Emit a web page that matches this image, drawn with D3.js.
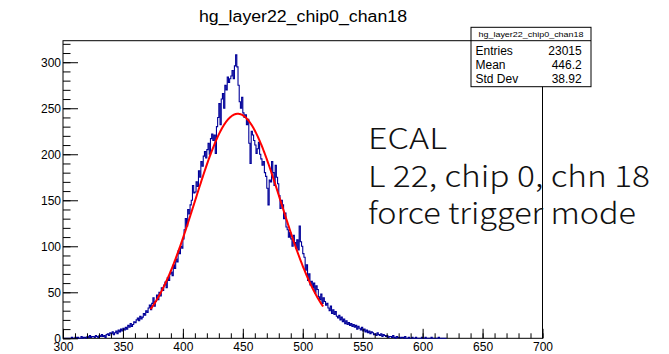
<!DOCTYPE html>
<html>
<head>
<meta charset="utf-8">
<script src="https://cdn.jsdelivr.net/npm/d3@7"></script>
<style>
  html, body { margin: 0; padding: 0; background: #fff; }
  svg { display: block; }
</style>
</head>
<body>
<div id="chart"></div>
<script>
// histogram: first bin low edge, bin width, bin contents (bins from 300 upward)
const histTitle = "hg_layer22_chip0_chan18";
const binStart = 300;
const binWidth = 1;
const counts = [
  0, 0, 0, 0, 0, 0, 0, 1, 0, 0,
  1, 0, 1, 0, 0, 2, 0, 1, 1, 0,
  2, 1, 3, 1, 2, 2, 1, 3, 2, 1,
  3, 2, 4, 2, 3, 1, 4, 5, 3, 6,
  5, 7, 4, 6, 8, 5, 9, 7, 10, 8,
  11, 9, 12, 10, 14, 12, 16, 13, 15, 18,
  17, 20, 22, 19, 24, 21, 23, 27, 25, 30,
  28, 33, 36, 31, 38, 44, 35, 40, 47, 42,
  50, 46, 55, 52, 58, 61, 55, 66, 63, 70,
  72, 68, 80, 76, 86, 83, 95, 92, 100, 98,
  108, 118, 130, 122, 140, 135, 145, 150, 166, 158,
  159, 170, 165, 182, 175, 192, 187, 198, 203, 196,
  205, 212, 200, 217, 222, 215, 221, 201, 230, 240,
  255, 232, 260, 266, 250, 275, 270, 284, 278, 282,
  285, 291, 282, 296, 308, 295, 275, 257, 250, 262,
  245, 240, 243, 232, 238, 212, 190, 225, 221, 215,
  210, 201, 206, 213, 200, 195, 188, 192, 180, 176,
  163, 145, 172, 170, 192, 180, 166, 188, 175, 168,
  155, 141, 150, 145, 130, 136, 121, 118, 110, 115,
  108, 100, 112, 104, 98, 107, 96, 122, 105, 100,
  92, 88, 74, 80, 63, 70, 58, 62, 55, 60,
  49, 57, 53, 45, 42, 48, 38, 44, 40, 36,
  38, 33, 30, 35, 27, 31, 26, 29, 24, 22,
  25, 20, 23, 18, 21, 16, 19, 15, 17, 14,
  16, 13, 15, 12, 14, 10, 13, 11, 9, 12,
  8, 10, 7, 9, 6, 8, 5, 7, 6, 4,
  5, 3, 6, 4, 3, 5, 2, 4, 3, 2,
  3, 1, 2, 2, 1, 3, 1, 0, 2, 1,
  1, 0, 1, 1, 0, 2, 0, 0, 1, 0,
  0, 1, 0, 0, 1, 0, 0, 0, 0, 1,
  0, 0, 1, 0, 0, 0, 0, 1, 0, 0,
  0, 0, 0, 1, 0, 0, 0, 0, 0, 0
];

// gaussian fit result and its range
const fitConstant = 244;
const fitMean = 445.8;
const fitSigma = 36;
const fitRange = [373, 517];

const xDomain = [300, 700];
const yMax = 323.4;
const xMajorTicks = [300, 350, 400, 450, 500, 550, 600, 650, 700];
const yMajorTicks = [0, 50, 100, 150, 200, 250, 300];

const statsLabels = ["Entries", "Mean", "Std Dev"];
const statsValues = ["23015", "446.2", "38.92"];

const noteLines = ["ECAL", "L 22, chip 0, chn 18", "force trigger mode"];
const noteWidths = [79, 282, 268];

const width = 669;
const height = 354;
const frame = { left: 63, right: 542.5, top: 40.7, bottom: 338.3 };
const rootFont = "'Liberation Sans', Arial, Helvetica, sans-serif";

const svg = d3.select("#chart").append("svg")
  .attr("width", width)
  .attr("height", height);

const x = d3.scaleLinear().domain(xDomain).range([frame.left, frame.right]);
const y = d3.scaleLinear().domain([0, yMax]).range([frame.bottom, frame.top]);

// frame
svg.append("rect")
  .attr("x", frame.left)
  .attr("y", frame.top)
  .attr("width", frame.right - frame.left)
  .attr("height", frame.bottom - frame.top)
  .attr("fill", "none")
  .attr("stroke", "#000")
  .attr("stroke-width", 1);

// histogram outline (ROOT step style)
const steps = counts.map((c, i) => [binStart + i * binWidth, c]);
steps.push([binStart + counts.length * binWidth, counts[counts.length - 1]]);

svg.append("path")
  .datum(steps)
  .attr("fill", "none")
  .attr("stroke", "#000099")
  .attr("stroke-width", 1.1)
  .attr("d", d3.line()
    .x((d) => x(d[0]))
    .y((d) => y(d[1]))
    .curve(d3.curveStepAfter));

// fit curve
const fitPoints = d3.range(fitRange[0], fitRange[1] + 0.01, 0.5).map((v) => [
  v,
  fitConstant * Math.exp(-0.5 * Math.pow((v - fitMean) / fitSigma, 2)),
]);

svg.append("path")
  .datum(fitPoints)
  .attr("fill", "none")
  .attr("stroke", "#ff0000")
  .attr("stroke-width", 2)
  .attr("d", d3.line()
    .x((d) => x(d[0]))
    .y((d) => y(d[1])));

// axes: ticks point inward like ROOT
const xMinor = d3.range(xDomain[0], xDomain[1] + 1, 10);
const yMinor = d3.range(0, yMax, 10);

svg.append("g")
  .attr("transform", `translate(0,${frame.bottom})`)
  .call(d3.axisBottom(x).tickValues(xMinor).tickSize(-5).tickFormat(""))
  .call((g) => g.select(".domain").remove());

svg.append("g")
  .attr("transform", `translate(0,${frame.bottom})`)
  .call(d3.axisBottom(x).tickValues(xMajorTicks).tickSize(-9.5).tickPadding(4.5))
  .call((g) => g.select(".domain").remove())
  .call((g) => g.selectAll("text")
    .attr("font-family", rootFont)
    .attr("font-size", 12)
    .attr("fill", "#000"));

svg.append("g")
  .attr("transform", `translate(${frame.left},0)`)
  .call(d3.axisLeft(y).tickValues(yMinor).tickSize(-7.5).tickFormat(""))
  .call((g) => g.select(".domain").remove());

svg.append("g")
  .attr("transform", `translate(${frame.left},0)`)
  .call(d3.axisLeft(y).tickValues(yMajorTicks).tickSize(-15).tickPadding(2))
  .call((g) => g.select(".domain").remove())
  .call((g) => g.selectAll("text")
    .attr("font-family", rootFont)
    .attr("font-size", 12)
    .attr("fill", "#000"));

svg.selectAll(".tick line").attr("stroke", "#000");

// title
svg.append("text")
  .attr("x", 303)
  .attr("y", 21.7)
  .attr("text-anchor", "middle")
  .attr("font-family", rootFont)
  .attr("font-size", 16)
  .attr("textLength", 208)
  .attr("lengthAdjust", "spacingAndGlyphs")
  .text(histTitle);

// stats box
const stats = svg.append("g").attr("class", "stats");
const box = { x: 471, y: 27.3, w: 120, h: 59.4, header: 13.4 };

stats.append("rect")
  .attr("x", box.x)
  .attr("y", box.y)
  .attr("width", box.w)
  .attr("height", box.h)
  .attr("fill", "#fff")
  .attr("stroke", "#000");

stats.append("line")
  .attr("x1", box.x)
  .attr("x2", box.x + box.w)
  .attr("y1", box.y + box.header)
  .attr("y2", box.y + box.header)
  .attr("stroke", "#000");

stats.append("text")
  .attr("x", box.x + box.w / 2)
  .attr("y", box.y + 10)
  .attr("text-anchor", "middle")
  .attr("font-family", rootFont)
  .attr("font-size", 8)
  .attr("textLength", 105)
  .attr("lengthAdjust", "spacingAndGlyphs")
  .text(histTitle);

const rowY = d3.scalePoint().domain(statsLabels).range([55, 83.3]);

stats.selectAll(".stat-label")
  .data(statsLabels)
  .join("text")
  .attr("class", "stat-label")
  .attr("x", box.x + 4.5)
  .attr("y", (d) => rowY(d))
  .attr("font-family", rootFont)
  .attr("font-size", 12)
  .text((d) => d);

stats.selectAll(".stat-value")
  .data(statsValues)
  .join("text")
  .attr("class", "stat-value")
  .attr("x", box.x + box.w - 9.3)
  .attr("y", (d, i) => rowY(statsLabels[i]))
  .attr("text-anchor", "end")
  .attr("font-family", rootFont)
  .attr("font-size", 12)
  .text((d) => d);

// annotation
svg.append("g")
  .selectAll("text")
  .data(noteLines)
  .join("text")
  .attr("x", 368)
  .attr("y", (d, i) => 149.3 + i * 37.4)
  .attr("font-family", "'Noto Sans CJK JP', 'Noto Sans', sans-serif")
  .attr("font-weight", 300)
  .attr("font-size", 29)
  .attr("textLength", (d, i) => noteWidths[i])
  .attr("lengthAdjust", "spacingAndGlyphs")
  .attr("fill", "#111")
  .text((d) => d);
</script>
</body>
</html>
